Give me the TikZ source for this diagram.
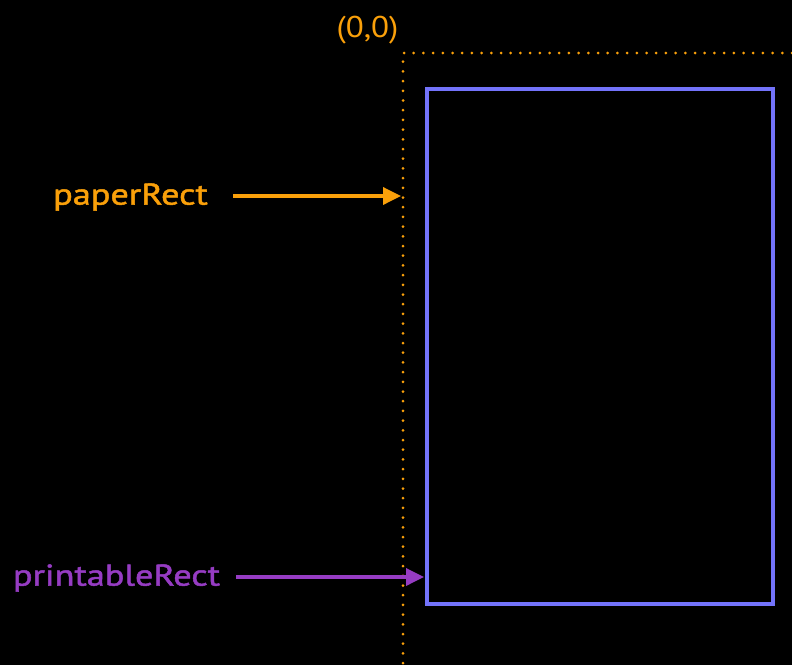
\documentclass[tikz,border=0pt]{standalone}
\usepackage{fontspec}
\setmainfont{PT Sans}
\newfontfamily\labelfont[FakeStretch=1.21, FakeBold=1.6]{PT Sans}
\newfontfamily\originfont[FakeStretch=1.1]{PT Sans}
\usetikzlibrary{arrows.meta}
\definecolor{paperorange}{RGB}{250,160,10}
\definecolor{printpurple}{RGB}{150,60,195}
\definecolor{rectblue}{RGB}{115,115,250}
\tikzset{
  label/.style={inner sep=0pt, font=\labelfont\fontsize{30}{36}\selectfont},
  pointer/.style={line width=3.5pt, -{Triangle[length=18pt,width=17pt]}},
  dots/.style={paperorange, line width=3pt, line cap=round, dash pattern=on 0pt off 9.7pt}
}
\begin{document}
\begin{tikzpicture}[x=1pt,y=-1pt]
      \fill [black] (0, 0) rectangle (792, 665);
      \useasboundingbox (0, 0) rectangle (792, 665);
      \coordinate (origin) at (403, 53);
      \draw [dots] (792, 53) -- (origin) -- (403, 665);
      \draw [rectblue, line width=4pt] (427, 89) rectangle (772.5, 604);
      \draw (367.5, 30) node (zero) [inner sep=0pt, paperorange, font=\originfont\fontsize{30}{36}\selectfont] {(0,0)}
            (130.5, 197) node (paper) [label, paperorange] {paperRect}
            (116.5, 578) node (printable) [label, printpurple] {printableRect};
      \coordinate (paperend) at (401, 196);
      \coordinate (printend) at (424, 577);
      \draw [pointer, paperorange, shorten <=25pt] (paper.east |- paperend) -- (paperend);
      \draw [pointer, printpurple, shorten <=16pt] (printable.east |- printend) -- (printend);
\end{tikzpicture}
\end{document}
